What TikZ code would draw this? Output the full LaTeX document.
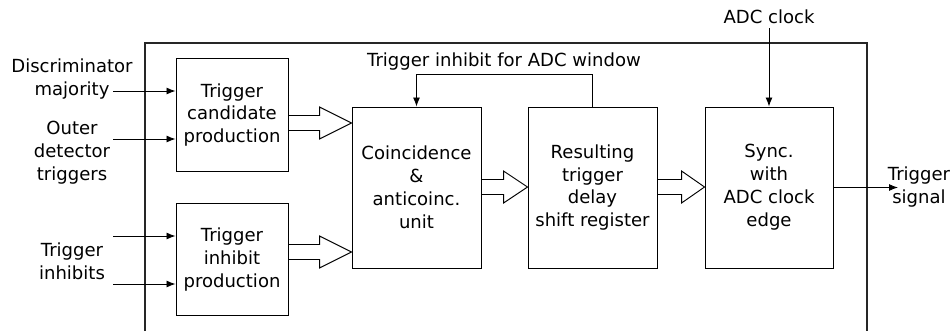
\documentclass[tikz,border=0pt]{standalone}
\usepackage{fontspec}
\setmainfont{DejaVu Sans}
\usepackage{tikz}
\usetikzlibrary{arrows.meta,calc,positioning}

% hollow bus arrow: tail, tip, head length
\newcommand{\fatarrow}[3]{%
  \draw ($(#1)+(0,-7.5)$) -- ($(#2)+(-#3,-7.5)$) -- ($(#2)+(-#3,-16)$) -- (#2)
    -- ($(#2)+(-#3,16)$) -- ($(#2)+(-#3,7.5)$) -- ($(#1)+(0,7.5)$);}

\begin{document}
\begin{tikzpicture}[x=0.03cm,y=-0.03cm,line width=0.8pt,
  font=\fontsize{15.4}{19.6}\selectfont,
  box/.style={draw,align=center,inner sep=0pt},
  small/.style={box,minimum width=3.36cm,minimum height=3.37cm},
  big/.style={box,minimum width=3.87cm,minimum height=4.83cm},
  sig/.style={-{Latex[length=0.27cm,width=0.21cm]}}]
\useasboundingbox (0,0) rectangle (952,331);

% frame of the board, open at the bottom
\draw[line width=0.9pt,black!85] (145,331) |- (867,43) -- (867,331);

\node[small] (A) at (232,115) {Trigger\\candidate\\production};
\node[small] (B) at (232,259.5) {Trigger\\inhibit\\production};
\node[big] (C) at (416.5,187.5) {Coincidence\\\&\\anticoinc.\\unit};
\node[big] (D) at (592.5,187.5) {Resulting\\trigger\\delay\\shift register};
\node[box,minimum width=3.84cm,minimum height=4.83cm] (E) at (769,187.5) {Sync.\\with\\ADC clock\\edge};

% inputs
\node[align=center] (disc) at (72,79) {Discriminator\\majority};
\node[align=center] (outer) at (72,153) {Outer\\detector\\triggers};
\node[align=center] (inh) at (72,261.5) {Trigger\\inhibits};
\coordinate (in1) at (113,91);
\coordinate (in2) at (113,139);
\coordinate (in3) at (113,236);
\coordinate (in4) at (113,284);
\draw[sig] (in1) -- (in1 -| A.west);
\draw[sig] (in2) -- (in2 -| A.west);
\draw[sig] (in3) -- (in3 -| B.west);
\draw[sig] (in4) -- (in4 -| B.west);

% bus arrows
\coordinate (t1) at (C.west |- 0,123);
\coordinate (s1) at (A.east |- t1);
\coordinate (t2) at (C.west |- 0,252);
\coordinate (s2) at (B.east |- t2);
\coordinate (t3) at (D.west |- 0,187);
\coordinate (s3) at (C.east |- t3);
\coordinate (t4) at (E.west |- 0,187);
\coordinate (s4) at (D.east |- t4);
\fatarrow{s1}{t1}{32}
\fatarrow{s2}{t2}{32}
\fatarrow{s3}{t3}{24}
\fatarrow{s4}{t4}{23}

% feedback
\node (fb) at (504,62) {Trigger inhibit for ADC window};
\draw[sig] (D.north) -- ++(0,-32) -| (C.north);

% clock and output
\node (clk) at (769,17) {ADC clock};
\draw[sig] (clk) -- (E.north);
\coordinate (out) at (898,187.5);
\draw[sig] (E.east) -- (out);
\node[align=center] (sig) at (919,187) {Trigger\\signal};
\end{tikzpicture}
\end{document}
